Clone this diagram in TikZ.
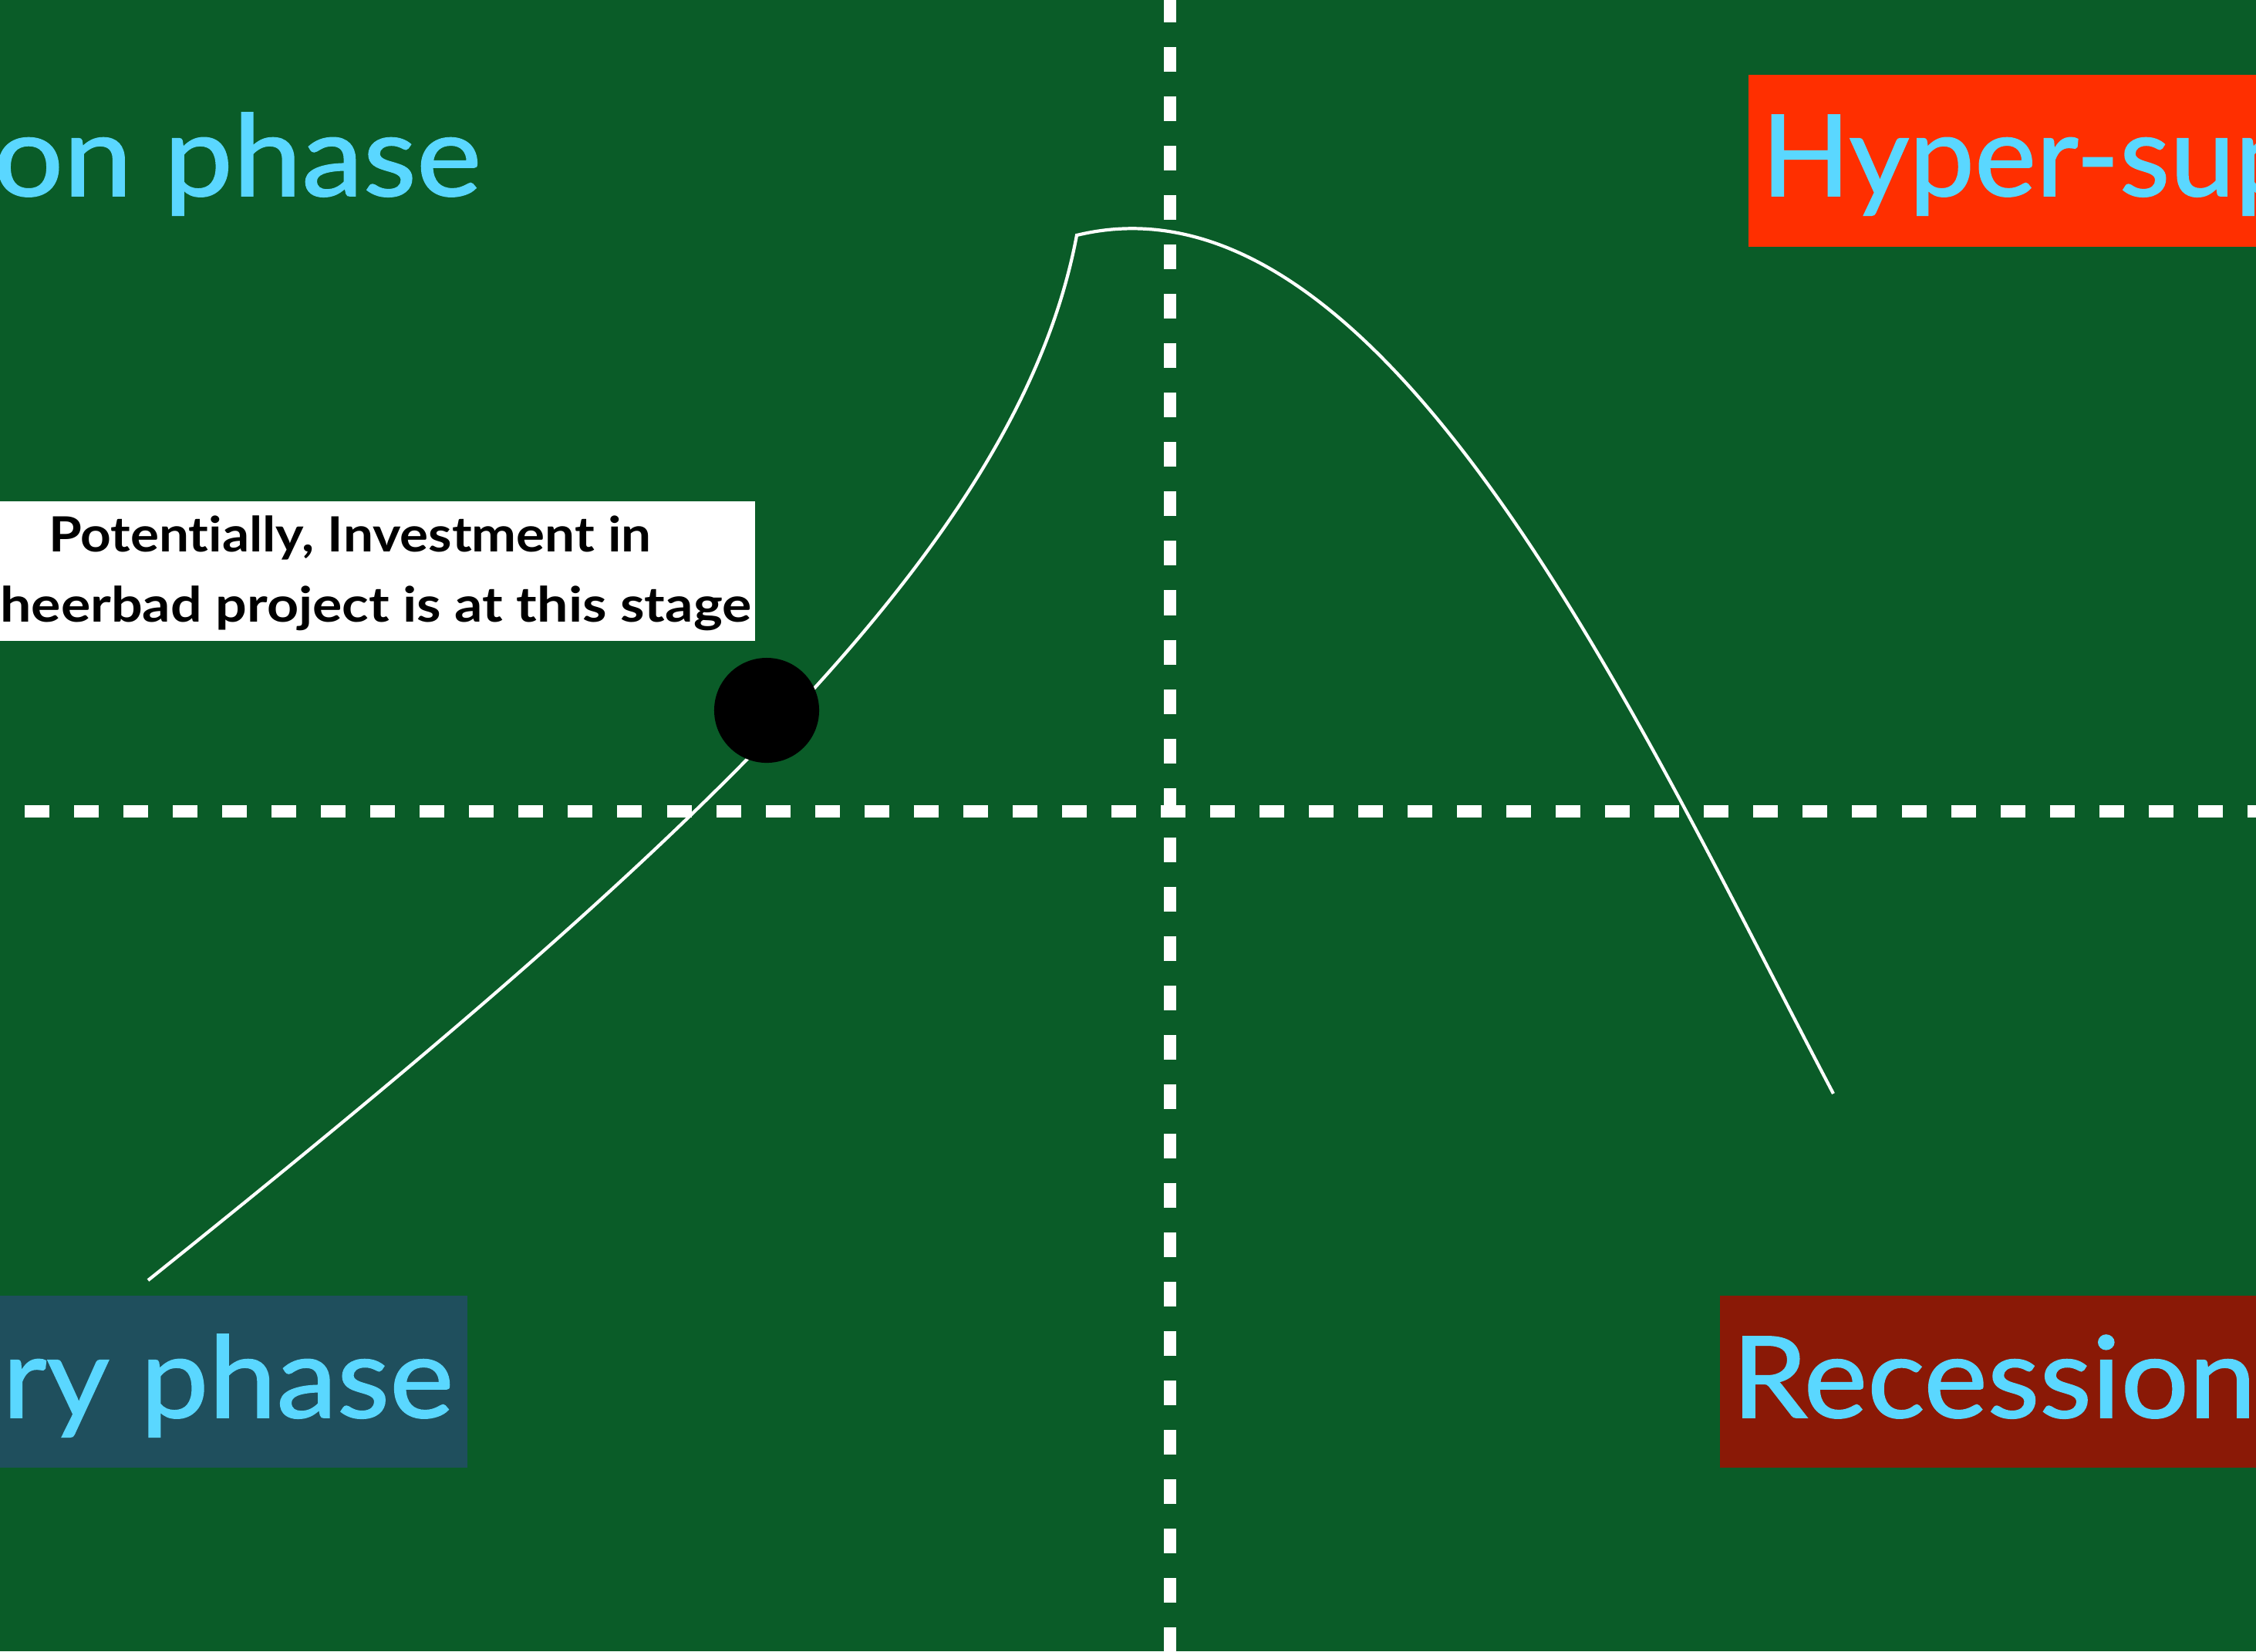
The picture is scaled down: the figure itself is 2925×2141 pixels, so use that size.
\documentclass[tikz,border=0pt]{standalone}
\usepackage{fontspec}
\setmainfont{Lato}
\newfontfamily\phasefont{Lato}[FakeBold=1.2, Ligatures=CommonOff]
\newfontfamily\labelfont{Lato}[FakeStretch=1.1, Ligatures=CommonOff]
\newfontfamily\labelfontwide{Lato}[FakeStretch=1.14, Ligatures=CommonOff]
\definecolor{bggreen}{HTML}{0A5C28}
\definecolor{phasecyan}{HTML}{5AD7FF}
\definecolor{hyperred}{HTML}{FF2F00}
\definecolor{recovteal}{HTML}{1F4F5D}
\definecolor{recessred}{HTML}{8A1906}
\tikzset{
  phasebox/.style={anchor=north west, inner sep=0pt, minimum height=2.23cm},
  phasetext/.style={text=phasecyan, inner sep=0pt, font=\phasefont\fontsize{41.7pt}{50pt}\selectfont},
  labeltext/.style={text=black, inner sep=0pt, font=\labelfont\fontsize{17.9pt}{21pt}\selectfont\bfseries},
  labeltextwide/.style={text=black, inner sep=0pt, font=\labelfontwide\fontsize{17.9pt}{21pt}\selectfont\bfseries},
  axisline/.style={draw=white, line width=0.16cm, dash pattern=on 0.32cm off 0.32cm},
  cycleline/.style={draw=white, line width=1.2pt, line join=miter},
}
\begin{document}
\begin{tikzpicture}[x=0.01cm,y=-0.01cm]
\useasboundingbox (0,0) rectangle (2925,2141);
\clip (0,0) rectangle (2925,2141);
\fill[bggreen] (0,0) rectangle (2925,2141);

% boxes
\node[phasebox, fill=hyperred, minimum width=7cm] (hyperbox) at (2266,96) {};
\node[phasebox, fill=recovteal, minimum width=6.25cm] (recovbox) at (-20,1679) {};
\node[phasebox, fill=recessred, minimum width=7.5cm] (recessbox) at (2229,1679) {};

% texts
\node[phasetext, anchor=base east] (expansion) at (625,254) {\addfontfeature{FakeStretch=1.09}on phase};
\node[phasetext, anchor=base west] (hyper) at (2283,254) {\addfontfeature{FakeStretch=1.03}Hyper-sup};
\node[phasetext, anchor=base east] (recovery) at (589,1838) {\addfontfeature{FakeStretch=1.075}ry phase};
\node[phasetext, anchor=base west] (recession) at (2245,1838) {\addfontfeature{FakeStretch=1.065}Recession};

% axes
\coordinate (hstart) at (32,1052);
\coordinate (hend) at (2925,1052);
\coordinate (vstart) at (1517,-3);
\coordinate (vend) at (1517,2141);
\draw[axisline] (hstart) -- (hend);
\draw[axisline] (vstart) -- (vend);

% cycle curve
\coordinate (cstart) at (192,1660);
\coordinate (corner) at (1396,305);
\coordinate (cend) at (2377,1418);
\draw[cycleline] (cstart) .. controls (892,1099) and (1321,705) .. (corner)
  .. controls (1796,208) and (2127,943) .. (cend);

% marker
\node[circle, fill=black, minimum size=1.36cm, inner sep=0pt] (dot) at (994,921) {};

% label
\fill[white] (-20,650) rectangle (979,831);
\node[labeltext, anchor=base] (lab1) at (454,715) {Potentially, Investment in};
\node[labeltextwide, anchor=base east] (lab2) at (975,806) {heerbad project is at this stage};
\end{tikzpicture}
\end{document}
